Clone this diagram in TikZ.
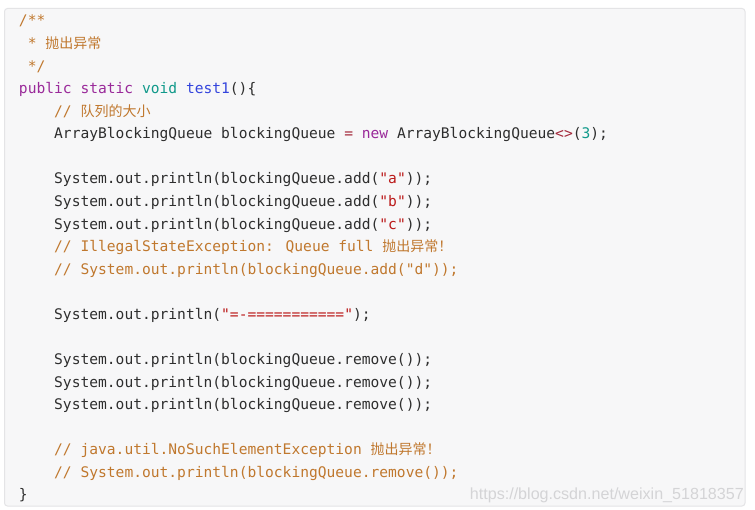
\documentclass[tikz,border=0pt]{standalone}
\usepackage{fontspec}
\usepackage{xcolor}
\newfontfamily\cxcode{DejaVu Sans Mono}
\newfontfamily\cxcjk{Noto Sans CJK SC}[Scale=0.96]
\newfontfamily\cxwm{Liberation Sans}
\definecolor{cxtext}{HTML}{2E2E2E}
\definecolor{cxkwc}{HTML}{9A2A9A}
\definecolor{cxtypec}{HTML}{10998A}
\definecolor{cxfnc}{HTML}{3344DD}
\definecolor{cxstrc}{HTML}{BB1A1A}
\definecolor{cxopc}{HTML}{A3283A}
\definecolor{cxcomc}{HTML}{C0782E}
\definecolor{cxbg}{HTML}{F7F7F8}
\definecolor{cxborder}{HTML}{E4E4E6}
\definecolor{cxwmc}{HTML}{D4D4D6}
\newcommand\cxkw[1]{\textcolor{cxkwc}{#1}}
\newcommand\cxty[1]{\textcolor{cxtypec}{#1}}
\newcommand\cxfn[1]{\textcolor{cxfnc}{#1}}
\newcommand\cxst[1]{\textcolor{cxstrc}{#1}}
\newcommand\cxop[1]{\textcolor{cxopc}{#1}}
\newcommand\cxcm[1]{\textcolor{cxcomc}{#1}}
\newcommand\cxzh[1]{{\cxcjk #1}}
\begin{document}
\begin{tikzpicture}[x=1pt,y=-1pt,
  codeline/.style={anchor=base west,inner sep=0pt,outer sep=0pt,text=cxtext,
    font=\cxcode\fontsize{14.6}{17}\selectfont},
  wmark/.style={anchor=base east,inner sep=0pt,text=cxwmc,
    font=\cxwm\fontsize{16.1}{18}\selectfont}]
\useasboundingbox (0,0) rectangle (755,510);
\fill[white] (0,0) rectangle (755,510);
\draw[cxborder,fill=cxbg,line width=1pt,rounded corners=3pt] (4.5,8.5) rectangle (745,506);
\def\cxc{8.8}
\def\cxl{22.57}
\node[codeline] (l0) at (19,26) {\cxcm{/**}};
\node[codeline] (l1) at (19+\cxc,26+\cxl) {\cxcm{* \cxzh{抛出异常}}};
\node[codeline] (l2) at (19+\cxc,26+2*\cxl) {\cxcm{*/}};
\node[codeline] (l3) at (19,26+3*\cxl) {\cxkw{public} \cxkw{static} \cxty{void} \cxfn{test1}()\{};
\node[codeline] (l4) at (19+4*\cxc,26+4*\cxl) {\cxcm{// \cxzh{队列的大小}}};
\node[codeline] (l5) at (19+4*\cxc,26+5*\cxl) {ArrayBlockingQueue blockingQueue \cxop{=} \cxkw{new} ArrayBlockingQueue\cxop{<>}(\cxty{3});};
\node[codeline] (l7) at (19+4*\cxc,26+7*\cxl) {System.out.println(blockingQueue.add(\cxst{"a"}));};
\node[codeline] (l8) at (19+4*\cxc,26+8*\cxl) {System.out.println(blockingQueue.add(\cxst{"b"}));};
\node[codeline] (l9) at (19+4*\cxc,26+9*\cxl) {System.out.println(blockingQueue.add(\cxst{"c"}));};
\node[codeline] (l10) at (19+4*\cxc,26+10*\cxl) {\cxcm{// IllegalStateException: Queue full \cxzh{抛出异常！}}};
\node[codeline] (l11) at (19+4*\cxc,26+11*\cxl) {\cxcm{// System.out.println(blockingQueue.add("d"));}};
\node[codeline] (l13) at (19+4*\cxc,26+13*\cxl) {System.out.println(\cxst{"=-==========="});};
\node[codeline] (l15) at (19+4*\cxc,26+15*\cxl) {System.out.println(blockingQueue.remove());};
\node[codeline] (l16) at (19+4*\cxc,26+16*\cxl) {System.out.println(blockingQueue.remove());};
\node[codeline] (l17) at (19+4*\cxc,26+17*\cxl) {System.out.println(blockingQueue.remove());};
\node[codeline] (l19) at (19+4*\cxc,26+19*\cxl) {\cxcm{// java.util.NoSuchElementException \cxzh{抛出异常！}}};
\node[codeline] (l20) at (19+4*\cxc,26+20*\cxl) {\cxcm{// System.out.println(blockingQueue.remove());}};
\node[codeline] (l21) at (19,26+21*\cxl) {\}};
\node[wmark] (wm) at (744,499) {https://blog.csdn.net/weixin\_51818357};
\end{tikzpicture}
\end{document}
